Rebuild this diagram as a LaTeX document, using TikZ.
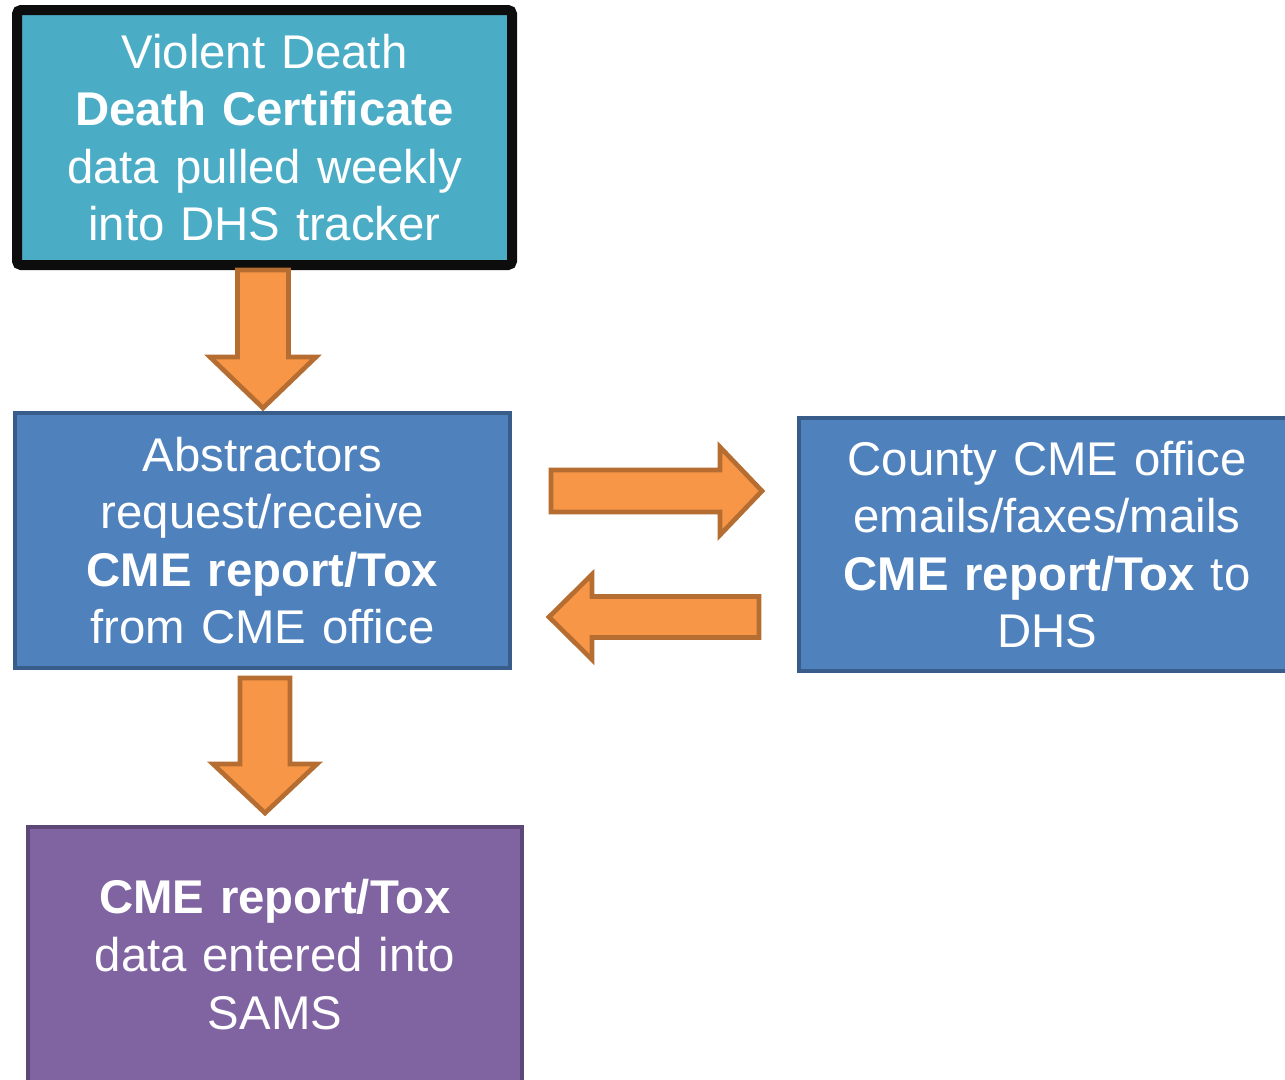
\documentclass[tikz,border=0pt]{standalone}
\usepackage{fontspec}
\setmainfont{Liberation Sans}
\usetikzlibrary{positioning,calc}
\definecolor{vdccyan}{HTML}{4BACC6}
\definecolor{absblue}{HTML}{4F81BD}
\definecolor{absline}{HTML}{385D8A}
\definecolor{flowfill}{HTML}{F79646}
\definecolor{flowline}{HTML}{B66D31}
\definecolor{samsfill}{HTML}{8064A2}
\definecolor{samsline}{HTML}{5C4776}
\tikzset{
  stepbox/.style={rectangle,align=center,text=white,inner sep=0pt,
    font=\fontsize{35.5}{43.2}\selectfont,text width=480*0.75pt},
  arrowbody/.style={fill=flowfill,draw=flowline,line width=3.5pt,line join=miter},
  pics/flowarrow/.style n args={4}{code={
    \draw[arrowbody] (0,-#2) -- (#1-#4,-#2) -- (#1-#4,-#3) -- (#1,0)
      -- (#1-#4,#3) -- (#1-#4,#2) -- (0,#2) -- cycle;
  }}
}

\begin{document}
\begin{tikzpicture}[x=0.75pt,y=-0.75pt]
\useasboundingbox (0,0) rectangle (1285,1079);
\clip (0,0) rectangle (1285,1079);
%
% boxes
  \node[stepbox,fill=vdccyan,draw=black!95,line width=7.5pt,rounded corners=3pt,
    minimum width=495*0.75pt,minimum height=255*0.75pt] (vdc) at (264.5,137.5)
    {Violent Death\\ \textbf{Death Certificate}\\ data pulled weekly\\ into DHS tracker};
  \node[stepbox,fill=absblue,draw=absline,line width=3pt,
    minimum width=495*0.75pt,minimum height=255*0.75pt] (abs) at (262.5,540.5)
    {Abstractors\\ request/receive\\ \textbf{CME report/Tox}\\ from CME office};
  \node[stepbox,fill=absblue,draw=absline,line width=3pt,
    minimum width=496*0.75pt,minimum height=253*0.75pt] (cty) at (1047,544.5)
    {County CME office\\ emails/faxes/mails\\ \textbf{CME report/Tox} to\\ DHS};
  \node[stepbox,fill=samsfill,draw=samsline,line width=3pt,
    minimum width=494*0.75pt,minimum height=255*0.75pt] (sams) at (275,954.5)
    {\textbf{CME report/Tox}\\ data entered into\\ SAMS};
%
% block arrows
  \path ($(vdc.south)+(-1.5,0)$) pic[rotate=-90] {flowarrow={138}{25.5}{53}{51}};
  \path ($(abs.east)+(39,-49.5)$) pic {flowarrow={211}{21}{44}{42}};
  \path ($(cty.west)+(-38,72.5)$) pic[rotate=180] {flowarrow={210}{20.5}{42.5}{43}};
  \path ($(abs.south)+(2.5,8)$) pic[rotate=-90] {flowarrow={135}{25}{52}{49}};
\end{tikzpicture}
\end{document}
